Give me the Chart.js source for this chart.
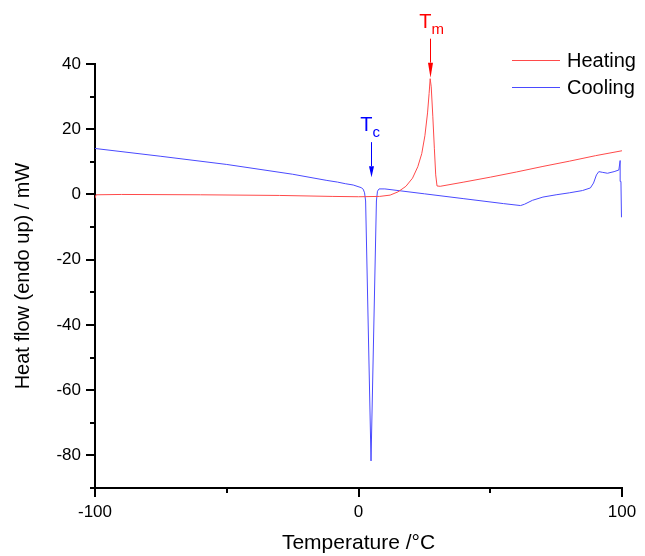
<!DOCTYPE html>
<html>
<head>
<meta charset="utf-8">
<script src="https://cdn.jsdelivr.net/npm/chart.js@4"></script>
<style>
  body { margin: 0; background: #fff; }
  canvas { display: block; }
</style>
</head>
<body>
<canvas id="dscChart" width="645" height="556"></canvas>
<script>
// DSC curves
const heatTemp = [-100, -99.6, -90, -60, -30, -10, 0, 8, 12, 15, 18, 20.5, 22.5, 24, 25.2, 26.2, 26.8, 27.2, 27.6, 28.2, 28.8, 29.3, 29.8, 31, 40, 50, 60, 70, 80, 90, 100];
const heatFlow = [-1.2, -0.1, 0.0, -0.1, -0.3, -0.6, -0.7, -0.6, -0.2, 0.8, 2.5, 5.0, 8.5, 12.5, 18, 25, 31, 35.5, 33, 24, 14, 6, 2.6, 2.5, 3.8, 5.3, 6.9, 8.6, 10.2, 11.9, 13.4];

const coolTemp = [99.8, 99.6, 99.3, 98.8, 97, 94.5, 92.5, 91.2, 90.3, 89.2, 88, 85, 80, 75, 70, 66, 63, 61.5, 55, 40, 25, 10, 7.8, 7.2, 6.8, 4.75, 2.7, 2.3, 1.8, 1.0, -2, -5, -8, -12, -25, -50, -75, -100];
const coolFlow = [-7, 4, 10.4, 7.5, 7.0, 6.5, 6.8, 7.0, 6.0, 3.5, 2.0, 1.2, 0.5, -0.1, -0.8, -1.8, -3.0, -3.4, -2.8, -1.3, 0.2, 1.7, 1.7, 1.0, -2, -81.7, -2, 0.5, 1.6, 2.1, 2.9, 3.3, 3.8, 4.3, 6.2, 9.2, 11.7, 14.1];

const xTicks = [-100, 0, 100];
const yTicks = [-80, -60, -40, -20, 0, 20, 40];
const seriesNames = ['Heating', 'Cooling'];
const peaks = { Tm: [27.2, 35.5], Tc: [4.75, 5] };

const toPoints = (xs, ys) => xs.map((x, i) => ({ x: x, y: ys[i] }));
const FONT = "'Liberation Sans', Arial, sans-serif";

// tick marks: long for labelled ticks, short for the others
const tickMarks = {
  id: 'tickMarks',
  afterDraw(chart) {
    const { ctx, chartArea, scales } = chart;
    ctx.save();
    ctx.strokeStyle = '#000';
    ctx.lineWidth = 2;
    scales.y.ticks.forEach(t => {
      const y = Math.round(scales.y.getPixelForValue(t.value));
      const len = yTicks.includes(t.value) ? 9 : 5;
      ctx.beginPath();
      ctx.moveTo(chartArea.left - len, y);
      ctx.lineTo(chartArea.left, y);
      ctx.stroke();
    });
    scales.x.ticks.forEach(t => {
      const x = Math.round(scales.x.getPixelForValue(t.value));
      const len = xTicks.includes(t.value) ? 9 : 5;
      ctx.beginPath();
      ctx.moveTo(x, chartArea.bottom);
      ctx.lineTo(x, chartArea.bottom + len);
      ctx.stroke();
    });
    ctx.restore();
  }
};

// legend in the top right corner and the Tm / Tc arrows
const extras = {
  id: 'extras',
  afterDraw(chart) {
    const { ctx, scales } = chart;
    ctx.save();
    chart.data.datasets.forEach((ds, i) => {
      const y = 60 + i * 27;
      ctx.strokeStyle = ds.borderColor;
      ctx.lineWidth = 1;
      ctx.beginPath();
      ctx.moveTo(512, y + 0.5);
      ctx.lineTo(560, y + 0.5);
      ctx.stroke();
      ctx.fillStyle = '#000';
      ctx.font = '20px ' + FONT;
      ctx.textBaseline = 'middle';
      ctx.fillText(ds.label, 567, y + 1);
    });

    function marker(name, sub, color, height, head) {
      const x = Math.round(scales.x.getPixelForValue(peaks[name][0])) + 0.5;
      const tip = scales.y.getPixelForValue(peaks[name][1]) - 1;
      ctx.fillStyle = color;
      ctx.strokeStyle = color;
      ctx.textBaseline = 'alphabetic';
      ctx.font = '20px ' + FONT;
      const tw = ctx.measureText('T').width;
      const base = tip - height - 11;
      ctx.fillText('T', x - tw + 1, base);
      ctx.font = '15px ' + FONT;
      ctx.fillText(sub, x + 1, base + 6);
      ctx.lineWidth = 1;
      ctx.beginPath();
      ctx.moveTo(x, tip - height);
      ctx.lineTo(x, tip - head);
      ctx.stroke();
      ctx.beginPath();
      ctx.moveTo(x - 2.5, tip - head);
      ctx.lineTo(x + 2.5, tip - head);
      ctx.lineTo(x, tip);
      ctx.closePath();
      ctx.fill();
    }
    marker('Tm', 'm', '#ff0000', 39, 15);
    marker('Tc', 'c', '#0000ff', 35, 11);
    ctx.restore();
  }
};

const ctx = document.getElementById('dscChart').getContext('2d');
new Chart(ctx, {
  type: 'line',
  data: {
    datasets: [
      { label: seriesNames[0], data: toPoints(heatTemp, heatFlow), borderColor: '#ff4a4a', borderWidth: 1, pointRadius: 0, tension: 0, fill: false },
      { label: seriesNames[1], data: toPoints(coolTemp, coolFlow), borderColor: '#4a4aff', borderWidth: 1, pointRadius: 0, tension: 0, fill: false }
    ]
  },
  options: {
    responsive: false,
    animation: false,
    devicePixelRatio: 1,
    parsing: false,
    layout: { padding: { top: 64, right: 23, left: 0, bottom: 0 } },
    plugins: { legend: { display: false }, tooltip: { enabled: false } },
    scales: {
      x: {
        type: 'linear', min: -100, max: 100,
        afterFit(s) { s.height = 68; s.paddingLeft = 0; s.paddingRight = 0; },
        border: { display: true, color: '#000', width: 2 },
        grid: { display: false, drawTicks: false },
        ticks: {
          stepSize: 50, padding: 14, color: '#000', maxRotation: 0,
          font: { family: FONT, size: 17 },
          callback: v => xTicks.includes(v) ? String(v) : ''
        },
        title: { display: true, text: 'Temperature /°C', color: '#000', font: { family: FONT, size: 21 }, padding: { top: 0, bottom: 0 } }
      },
      y: {
        type: 'linear', min: -90, max: 40,
        afterFit(s) { s.width = 95; s.paddingTop = 0; s.paddingBottom = 0; },
        border: { display: true, color: '#000', width: 2 },
        grid: { display: false, drawTicks: false },
        ticks: {
          stepSize: 10, padding: 14, color: '#000',
          font: { family: FONT, size: 17 },
          callback: v => yTicks.includes(v) ? String(v) : ''
        },
        title: { display: true, text: 'Heat flow (endo up) / mW', color: '#000', font: { family: FONT, size: 20 }, padding: { top: 11, bottom: 0 } }
      }
    }
  },
  plugins: [tickMarks, extras]
});
</script>
</body>
</html>
